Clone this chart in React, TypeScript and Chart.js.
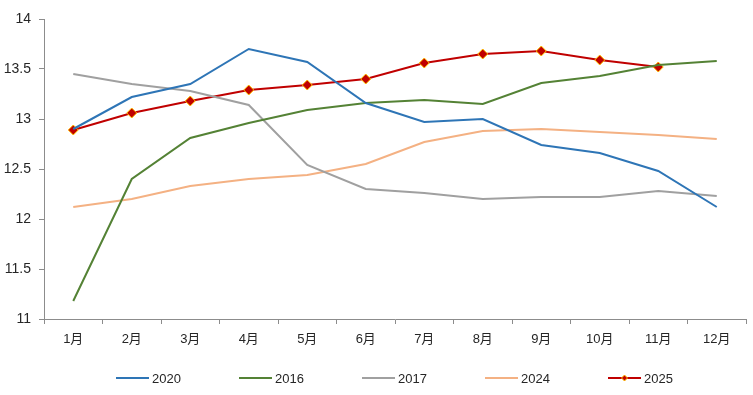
import React, { useEffect, useRef } from "react";
import { Chart, registerables } from "chart.js";

Chart.register(...registerables);

const categories = ["1月", "2月", "3月", "4月", "5月", "6月", "7月", "8月", "9月", "10月", "11月", "12月"];
const s2020 = [12.9, 13.22, 13.35, 13.7, 13.57, 13.16, 12.97, 13.0, 12.74, 12.66, 12.48, 12.12];
const s2016 = [11.18, 12.4, 12.81, 12.96, 13.09, 13.16, 13.19, 13.15, 13.36, 13.43, 13.54, 13.58];
const s2017 = [13.45, 13.35, 13.28, 13.14, 12.54, 12.3, 12.26, 12.2, 12.22, 12.22, 12.28, 12.23];
const s2024 = [12.12, 12.2, 12.33, 12.4, 12.44, 12.55, 12.77, 12.88, 12.9, 12.87, 12.84, 12.8];
const s2025 = [12.89, 13.06, 13.18, 13.29, 13.34, 13.4, 13.56, 13.65, 13.68, 13.59, 13.52, null];
const seriesNames = ["2020", "2016", "2017", "2024", "2025"];
const yTicks = [11, 11.5, 12, 12.5, 13, 13.5, 14];

const FONT = "'Liberation Sans', 'Noto Sans CJK SC', sans-serif";
const TEXT = "#262626";
const AXIS = "#8c8c8c";

const legendPlugin = {
  id: "customLegend",
  afterDraw(chart: any) {
    const ctx = chart.ctx;
    const ds = chart.data.datasets;
    const startX = 116;
    const step = 123;
    const y = 378;
    ctx.save();
    ctx.font = `13px ${FONT}`;
    ctx.textBaseline = "middle";
    ctx.textAlign = "left";
    ds.forEach((d: any, i: number) => {
      const x = startX + i * step;
      ctx.strokeStyle = d.borderColor;
      ctx.lineWidth = 2;
      ctx.beginPath();
      ctx.moveTo(x, y);
      ctx.lineTo(x + 33, y);
      ctx.stroke();
      if (d.pointRadius && d.pointRadius > 0) {
        const cx = x + 16.5;
        const r = 3;
        ctx.fillStyle = d.pointBackgroundColor;
        ctx.strokeStyle = d.pointBorderColor;
        ctx.lineWidth = 1;
        ctx.beginPath();
        ctx.moveTo(cx, y - r);
        ctx.lineTo(cx + r, y);
        ctx.lineTo(cx, y + r);
        ctx.lineTo(cx - r, y);
        ctx.closePath();
        ctx.fill();
        ctx.stroke();
      }
      ctx.fillStyle = TEXT;
      ctx.fillText(d.label, x + 36, y + 1);
    });
    ctx.restore();
  },
};

export default function App() {
  const ref = useRef<HTMLCanvasElement>(null);
  useEffect(() => {
    if (!ref.current) return;
    const mk = (label: string, data: any[], color: string) => ({
      label,
      data,
      borderColor: color,
      backgroundColor: color,
      borderWidth: 2,
      pointRadius: 0,
      pointHoverRadius: 0,
      tension: 0,
      fill: false,
    });
    const chart = new Chart(ref.current, {
      type: "line",
      data: {
        labels: categories,
        datasets: [
          mk(seriesNames[0], s2020, "#2E75B6"),
          mk(seriesNames[1], s2016, "#548235"),
          mk(seriesNames[2], s2017, "#A0A0A0"),
          mk(seriesNames[3], s2024, "#F4B183"),
          {
            ...mk(seriesNames[4], s2025, "#C00000"),
            pointRadius: 5,
            pointStyle: "rectRot",
            pointBackgroundColor: "#C00000",
            pointBorderColor: "#FFC000",
            pointBorderWidth: 1,
          },
        ],
      },
      options: {
        responsive: false,
        animation: false,
        layout: { padding: { top: 19, right: 7, bottom: 0, left: 0 } },
        plugins: { legend: { display: false }, tooltip: { enabled: false } },
        scales: {
          x: {
            offset: true,
            grid: {
              offset: true,
              drawOnChartArea: false,
              drawTicks: true,
              tickLength: 5,
              color: AXIS,
            },
            border: { display: true, color: AXIS, width: 1 },
            ticks: { color: TEXT, font: { family: FONT, size: 13 }, padding: 8, maxRotation: 0 },
            afterFit: (s: any) => {
              s.height = 76;
            },
          },
          y: {
            min: 11,
            max: 14,
            afterBuildTicks: (s: any) => {
              s.ticks = yTicks.map((v) => ({ value: v }));
            },
            grid: {
              drawOnChartArea: false,
              drawTicks: true,
              tickLength: 5,
              color: AXIS,
            },
            border: { display: true, color: AXIS, width: 1 },
            ticks: {
              color: TEXT,
              font: { family: FONT, size: 14 },
              padding: 8,
              callback: (v: any) => String(v),
            },
            afterFit: (s: any) => {
              s.width = 44;
            },
          },
        },
      },
      plugins: [legendPlugin],
    });
    return () => chart.destroy();
  }, []);
  return (
    <div style={{ position: "fixed", left: 0, top: 0, width: 753, height: 395, background: "#fff" }}>
      <canvas ref={ref} width={753} height={395} />
    </div>
  );
}
